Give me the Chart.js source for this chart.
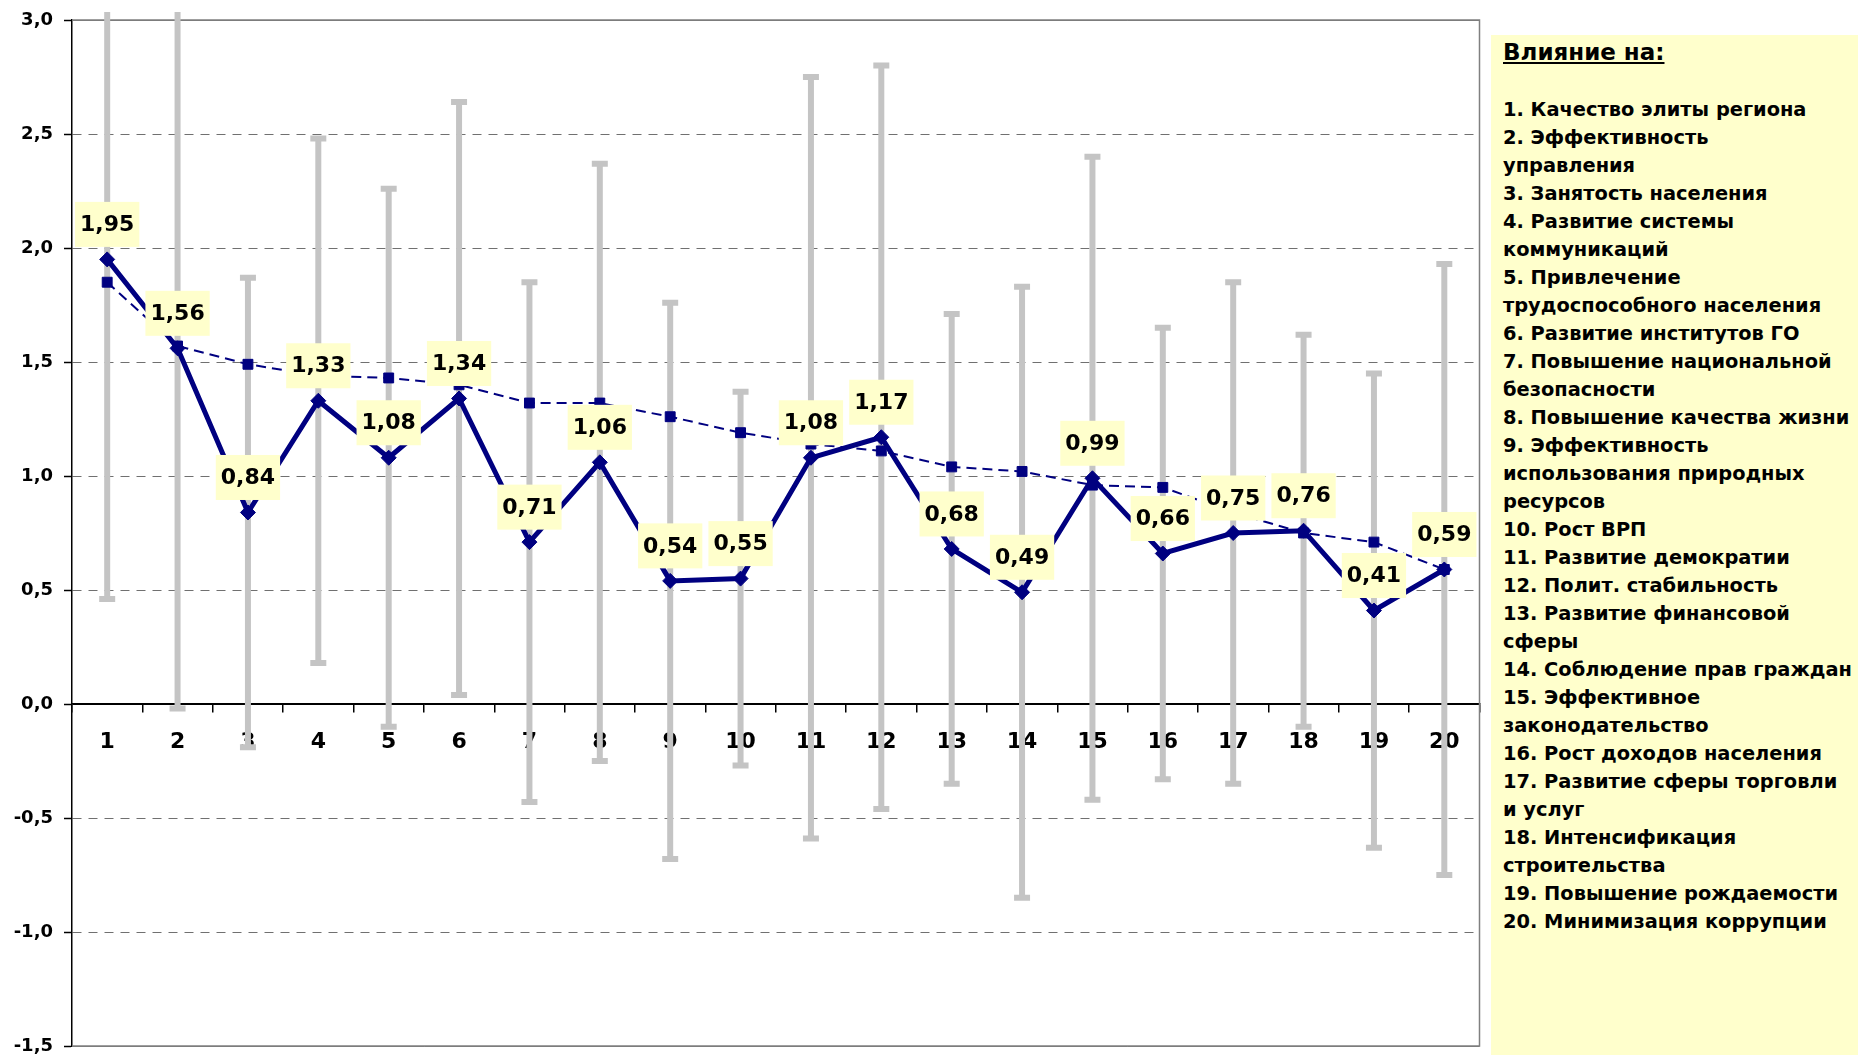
<!DOCTYPE html>
<html lang="ru">
<head>
<meta charset="utf-8">
<title>Влияние на</title>
<script src="https://cdn.jsdelivr.net/npm/chart.js@4.4.1/dist/chart.umd.min.js"></script>
<style>
  html, body { margin: 0; padding: 0; background: #ffffff; }
  body { width: 1858px; height: 1055px; position: relative; overflow: hidden; }
  #chartBox { position: absolute; left: 0; top: 0; width: 1488px; height: 1055px; }
  #legendPanel {
    position: absolute; left: 1491px; top: 35px; width: 367px; height: 1020px;
    background: #FFFFCC; box-sizing: border-box; padding: 3px 0 0 12px;
    font-family: "DejaVu Sans", sans-serif; font-weight: bold; font-size: 19.4px;
    line-height: 28px; color: #000; white-space: nowrap; overflow: hidden;
  }
  #legendPanel .title { text-decoration: underline; font-size: 23px; }
  #legendPanel .blank { height: 30px; }
</style>
</head>
<body>
<div id="chartBox"><canvas id="chart"></canvas></div>
<div id="legendPanel"></div>
<script>
// ---- data ----
const categories = ['1','2','3','4','5','6','7','8','9','10','11','12','13','14','15','16','17','18','19','20'];
const meanValues = [1.95, 1.56, 0.84, 1.33, 1.08, 1.34, 0.71, 1.06, 0.54, 0.55, 1.08, 1.17, 0.68, 0.49, 0.99, 0.66, 0.75, 0.76, 0.41, 0.59];
const compareValues = [1.85, 1.57, 1.49, 1.44, 1.43, 1.40, 1.32, 1.32, 1.26, 1.19, 1.14, 1.11, 1.04, 1.02, 0.96, 0.95, 0.84, 0.75, 0.71, 0.59];
const sdValues = [1.49, 1.58, 1.03, 1.15, 1.18, 1.30, 1.14, 1.31, 1.22, 0.82, 1.67, 1.63, 1.03, 1.34, 1.41, 0.99, 1.10, 0.86, 1.04, 1.34];
const yMin = -1.5, yMax = 3.0, yStep = 0.5;
const legendTitle = 'Влияние на:';
const legendItems = [
  '1. Качество элиты региона',
  '2. Эффективность\nуправления',
  '3. Занятость населения',
  '4. Развитие системы\nкоммуникаций',
  '5. Привлечение\nтрудоспособного населения',
  '6. Развитие институтов ГО',
  '7. Повышение национальной\nбезопасности',
  '8. Повышение качества жизни',
  '9. Эффективность\nиспользования природных\nресурсов',
  '10. Рост ВРП',
  '11. Развитие демократии',
  '12. Полит. стабильность',
  '13. Развитие финансовой\nсферы',
  '14. Соблюдение прав граждан',
  '15. Эффективное\nзаконодательство',
  '16. Рост доходов населения',
  '17. Развитие сферы торговли\nи услуг',
  '18. Интенсификация\nстроительства',
  '19. Повышение рождаемости',
  '20. Минимизация коррупции'
];

// ---- legend panel (HTML) ----
(function () {
  const panel = document.getElementById('legendPanel');
  const t = document.createElement('div');
  t.className = 'title';
  t.textContent = legendTitle;
  panel.appendChild(t);
  const blank = document.createElement('div');
  blank.className = 'blank';
  panel.appendChild(blank);
  legendItems.forEach(item => {
    item.split('\n').forEach(line => {
      const d = document.createElement('div');
      d.textContent = line;
      panel.appendChild(d);
    });
  });
})();

const fmt = v => v.toFixed(2).replace('.', ',');
const fmtTick = v => Number(v).toFixed(1).replace('.', ',');

// ---- plugins ----
const frameAndErrorBars = {
  id: 'frameAndErrorBars',
  beforeDatasetsDraw(chart) {
    const { ctx, chartArea: a, scales } = chart;
    ctx.save();
    ctx.strokeStyle = '#808080';
    ctx.lineWidth = 1.5;
    ctx.setLineDash([]);
    ctx.beginPath();
    ctx.moveTo(a.left, a.top); ctx.lineTo(a.right, a.top);
    ctx.lineTo(a.right, a.bottom); ctx.lineTo(a.left, a.bottom);
    ctx.stroke();
    ctx.beginPath();
    ctx.rect(a.left, a.top - 8, a.right - a.left, a.bottom - a.top + 8);
    ctx.clip();
    ctx.strokeStyle = '#C4C4C4';
    ctx.lineWidth = 6;
    ctx.lineCap = 'butt';
    meanValues.forEach((m, i) => {
      const x = scales.x.getPixelForValue(i);
      const hi = scales.y.getPixelForValue(m + sdValues[i]);
      const lo = scales.y.getPixelForValue(m - sdValues[i]);
      ctx.beginPath();
      ctx.moveTo(x, hi); ctx.lineTo(x, lo);
      ctx.moveTo(x - 8, hi); ctx.lineTo(x + 8, hi);
      ctx.moveTo(x - 8, lo); ctx.lineTo(x + 8, lo);
      ctx.stroke();
    });
    ctx.restore();
  }
};

const valueLabels = {
  id: 'valueLabels',
  afterDatasetsDraw(chart) {
    const { ctx } = chart;
    const meta = chart.getDatasetMeta(0);
    ctx.save();
    ctx.font = 'bold 22px "DejaVu Sans", sans-serif';
    ctx.textAlign = 'center';
    ctx.textBaseline = 'middle';
    meta.data.forEach((pt, i) => {
      const txt = fmt(meanValues[i]);
      const w = ctx.measureText(txt).width + 10;
      const h = 45;
      const cx = pt.x, cy = pt.y - 35;
      ctx.fillStyle = '#FFFFCC';
      ctx.fillRect(cx - w / 2, cy - h / 2, w, h);
      ctx.fillStyle = '#000000';
      ctx.fillText(txt, cx, cy + 1);
    });
    ctx.restore();
  }
};

// ---- chart ----
new Chart(document.getElementById('chart'), {
  type: 'line',
  data: {
    labels: categories,
    datasets: [
      {
        label: 'mean',
        data: meanValues,
        borderColor: '#000080',
        backgroundColor: '#000080',
        borderWidth: 5,
        pointStyle: 'rectRot',
        pointRadius: 7.5,
        pointBorderWidth: 1,
        tension: 0
      },
      {
        label: 'compare',
        data: compareValues,
        borderColor: '#000080',
        backgroundColor: '#000080',
        borderWidth: 2,
        borderDash: [10, 6],
        pointStyle: 'rect',
        pointRadius: 7,
        pointBorderWidth: 1,
        tension: 0
      }
    ]
  },
  options: {
    responsive: true,
    maintainAspectRatio: false,
    animation: false,
    events: [],
    layout: { padding: { top: 20, right: 3, bottom: 9, left: 0 } },
    plugins: { legend: { display: false }, tooltip: { enabled: false } },
    scales: {
      x: {
        type: 'category',
        position: { y: 0 },
        offset: true,
        z: 1,
        afterFit: s => { s.paddingLeft = 0; s.paddingRight = 0; s.paddingTop = 0; s.paddingBottom = 0; },
        grid: {
          offset: true,
          drawOnChartArea: false,
          drawTicks: true,
          tickLength: 8,
          tickColor: '#000000',
          lineWidth: 1.5
        },
        border: { display: true, color: '#000000', width: 1.5 },
        ticks: {
          color: '#000000',
          font: { family: '"DejaVu Sans", sans-serif', weight: 'bold', size: 22 },
          padding: 17,
          maxRotation: 0,
          autoSkip: false
        }
      },
      y: {
        min: yMin,
        max: yMax,
        afterFit: s => { s.width = 72; s.paddingTop = 0; s.paddingBottom = 0; },
        grid: {
          color: c => (c.tick && c.tick.value === 0) ? '#000000' : '#707070',
          lineWidth: 1,
          tickLength: 8,
          tickColor: '#000000',
          tickWidth: 1.5
        },
        border: {
          display: true, color: '#000000', width: 1.5,
          dash: c => (c.type === 'tick' && c.tick && c.tick.value !== 0 && c.tick.value !== yMax && c.tick.value !== yMin) ? [9, 7] : []
        },
        ticks: {
          stepSize: yStep,
          color: '#000000',
          padding: 11,
          font: { family: '"DejaVu Sans", sans-serif', weight: 'bold', size: 18 },
          callback: v => fmtTick(v)
        }
      }
    }
  },
  plugins: [frameAndErrorBars, valueLabels]
});
</script>
</body>
</html>
